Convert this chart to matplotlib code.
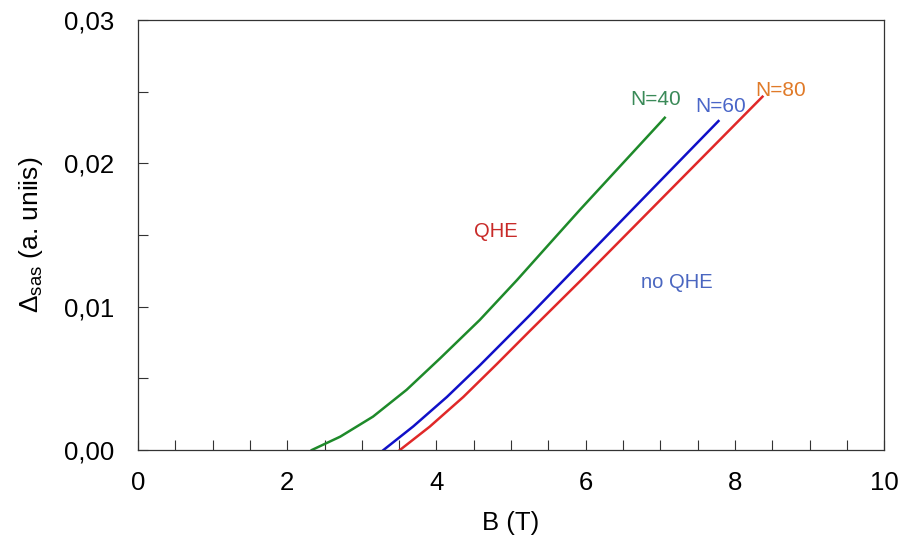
import matplotlib.pyplot as plt
from matplotlib.ticker import MultipleLocator, FixedLocator

plt.rcParams['font.family'] = ['Liberation Sans', 'DejaVu Sans']
plt.rcParams['mathtext.fontset'] = 'custom'
plt.rcParams['mathtext.rm'] = 'Liberation Sans'

# curves: B (T) and Delta_sas (a. units)
b_n40 = [2.33, 2.71, 3.15, 3.6, 4.05, 4.58, 5.08, 5.52, 5.92, 7.06]
d_n40 = [0.0, 0.00093, 0.00233, 0.0042, 0.0064, 0.00907, 0.01186, 0.01442, 0.01674, 0.02318]

b_n60 = [3.29, 3.69, 4.14, 4.58, 5.25, 5.92, 7.78]
d_n60 = [0.0, 0.00165, 0.0037, 0.0059, 0.0094, 0.0130, 0.02295]

b_n80 = [3.51, 3.91, 4.36, 4.81, 5.25, 5.95, 8.37]
d_n80 = [0.0, 0.00163, 0.0037, 0.0060, 0.0083, 0.01191, 0.02465]

x_ticks = [0, 2, 4, 6, 8, 10]
y_ticks = [0.0, 0.01, 0.02, 0.03]
y_labels = ["0,00", "0,01", "0,02", "0,03"]

fig = plt.figure(figsize=(9.04, 5.52), dpi=100)
ax = fig.add_axes([0.1527, 0.1848, 0.8253, 0.779])

ax.plot(b_n40, d_n40, color="#1e8a2a", lw=1.8)
ax.plot(b_n60, d_n60, color="#1010c8", lw=1.8)
ax.plot(b_n80, d_n80, color="#e02828", lw=1.8)

ax.set_xlim(0, 10)
ax.set_ylim(0, 0.03)
ax.xaxis.set_major_locator(FixedLocator(x_ticks))
ax.xaxis.set_minor_locator(MultipleLocator(0.5))
ax.yaxis.set_major_locator(FixedLocator(y_ticks))
ax.yaxis.set_minor_locator(MultipleLocator(0.005))
ax.set_xticklabels([str(t) for t in x_ticks])
ax.set_yticklabels(y_labels)
ax.tick_params(which="both", direction="in", length=7, width=0.8, color="#333333")
ax.tick_params(axis="both", labelsize=18.5)
ax.tick_params(axis="x", pad=15)
ax.tick_params(axis="y", pad=17)
for sp in ax.spines.values():
    sp.set_linewidth(0.9)
    sp.set_color("#333333")

ax.set_xlabel("B (T)", fontsize=18.5, labelpad=12)
ax.set_ylabel(r"$\Delta_{\mathregular{sas}}$ (a. uniis)", fontsize=19, labelpad=14)

ax.text(6.60, 0.02407, "N=40", color="#3a8a58", fontsize=15)
ax.text(7.47, 0.02358, "N=60", color="#4a66c8", fontsize=15)
ax.text(8.27, 0.0247, "N=80", color="#e07a28", fontsize=15)
ax.text(4.50, 0.01486, "QHE", color="#c82a28", fontsize=14.5)
ax.text(6.74, 0.0113, "no QHE", color="#4a66c0", fontsize=14.5)

fig.savefig("out.png", dpi=100)
